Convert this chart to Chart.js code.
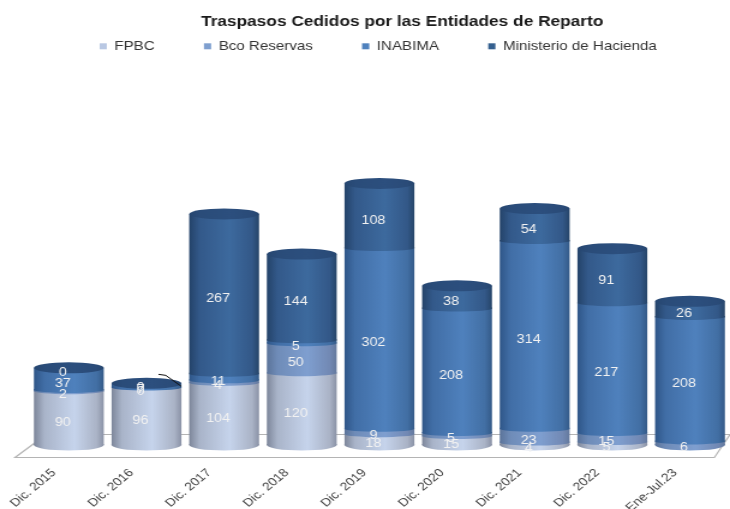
<!DOCTYPE html>
<html>
<head>
<meta charset="utf-8">
<title>Traspasos Cedidos por las Entidades de Reparto</title>
<script src="https://cdn.jsdelivr.net/npm/chart.js@4"></script>
<style>
  html, body { margin: 0; padding: 0; background: #fff; }
</style>
</head>
<body>
<!-- the original picture is stretched sideways, so the canvas is too -->
<canvas id="traspasos" width="608" height="509" style="display:block;width:730px;height:509px"></canvas>
<script>
var categories = ['Dic. 2015', 'Dic. 2016', 'Dic. 2017', 'Dic. 2018', 'Dic. 2019', 'Dic. 2020', 'Dic. 2021', 'Dic. 2022', 'Ene-Jul.23'];
var fpbc = [90, 96, 104, 120, 18, 15, 4, 5, null];
var bcoReservas = [2, 0, 4, 50, 9, 5, 23, 15, 6];
var inabima = [37, 7, 11, 5, 302, 208, 314, 217, 208];
var hacienda = [0, 0, 267, 144, 108, 38, 54, 91, 26];
var legendColors = ['#b9c8e3', '#7f9fcf', '#4f81bd', '#35608f'];

var barPct = 0.9;
var capHeight = 5.5;
var seamHeight = 3;
var shadeStops = [0, 0.15, 0.58, 0.9, 1];

function makeGradient(ctx, x, halfWidth, colors) {
  var g = ctx.createLinearGradient(x - halfWidth, 0, x + halfWidth, 0);
  shadeStops.forEach(function(stop, i) {
    g.addColorStop(stop, colors[i]);
  });
  return g;
}

function barFill(legendColor, colors) {
  return function(context) {
    if (context.type !== 'data') return legendColor;
    var xScale = context.chart.scales.x;
    var half = xScale.width / categories.length * barPct / 2;
    var center = xScale.getPixelForValue(context.dataIndex);
    // the scale has no size yet on the first pass
    if (!isFinite(center) || !isFinite(half)) return legendColor;
    return makeGradient(context.chart.ctx, center, half, colors);
  };
}

var shades = [
  ['#7d869a', '#a9b4c9', '#c6d4ec', '#aab3c6', '#8a92a6'],
  ['#5b7399', '#6f8cb8', '#7f9fd0', '#7289b4', '#64799d'],
  ['#2f5688', '#416ea6', '#4f81bd', '#426fa4', '#345a88'],
  ['#244369', '#33598a', '#3d6a9e', '#335888', '#264569']
];
var topShade = ['#264670', '#2a4c79', '#2c4f7e', '#2a4b78', '#26466f'];

// floor, curved bar ends and value labels go around the library's own bars
var cylinderPlugin = {
  id: 'cylinders',
  afterLayout: function(chart) {
    chart.titleBlock.left += 19;
    chart.titleBlock.right += 19;
    chart.legend.left -= 1;
    chart.legend.right -= 1;
    chart.legend.top = -1;
  },
  beforeDatasetsDraw: function(chart) {
    var ctx = chart.ctx, area = chart.chartArea;
    ctx.save();
    ctx.strokeStyle = '#b4b4b4';
    ctx.lineWidth = 1.2;
    ctx.beginPath();
    ctx.moveTo(area.left + 13.5, area.bottom - 10.5);
    ctx.lineTo(area.left - 12.5, area.bottom + 12.5);
    ctx.lineTo(area.right - 12, area.bottom + 12.5);
    ctx.lineTo(area.right + 1, area.bottom - 10.5);
    ctx.lineTo(area.left + 13.5, area.bottom - 10.5);
    ctx.stroke();
    ctx.restore();
  },
  afterDatasetsDraw: function(chart) {
    var ctx = chart.ctx;
    var groundY = chart.scales.y.getPixelForValue(0);
    ctx.save();
    chart.data.datasets.forEach(function(ds, i) {
      chart.getDatasetMeta(i).data.forEach(function(bar, n) {
        if (!ds.data[n]) return;
        var ry = Math.abs(bar.base - groundY) < 1 ? capHeight : seamHeight;
        ctx.fillStyle = makeGradient(ctx, bar.x, bar.width / 2, shades[i]);
        ctx.beginPath();
        ctx.rect(bar.x - bar.width / 2, bar.base - 1, bar.width, 1.5);
        ctx.ellipse(bar.x, bar.base, bar.width / 2, ry, 0, 0, Math.PI);
        ctx.fill();
      });
    });

    // top face of each stack
    var lastMeta = chart.getDatasetMeta(chart.data.datasets.length - 1);
    lastMeta.data.forEach(function(bar) {
      ctx.fillStyle = makeGradient(ctx, bar.x, bar.width / 2, topShade);
      ctx.beginPath();
      ctx.ellipse(bar.x, bar.y, bar.width / 2, capHeight, 0, 0, Math.PI * 2);
      ctx.fill();
    });

    // stray leader line next to Dic. 2016
    var stray = lastMeta.data[1];
    ctx.strokeStyle = '#111';
    ctx.lineWidth = 1;
    ctx.beginPath();
    ctx.moveTo(stray.x + 10, stray.y - 9);
    ctx.lineTo(stray.x + 16, stray.y - 8);
    ctx.lineTo(stray.x + 29, stray.y + 3);
    ctx.stroke();

    ctx.fillStyle = '#f2f2f2';
    ctx.font = '12px "Liberation Sans"';
    ctx.textAlign = 'center';
    ctx.textBaseline = 'middle';
    chart.data.datasets.forEach(function(ds, i) {
      chart.getDatasetMeta(i).data.forEach(function(bar, n) {
        if (ds.data[n] === null) return;
        ctx.fillText(ds.data[n], bar.x - 5, (bar.y + bar.base) / 2 + 4.5);
      });
    });
    ctx.restore();
  }
};

new Chart(document.getElementById('traspasos').getContext('2d'), {
  type: 'bar',
  data: {
    labels: categories,
    datasets: [
      { label: 'FPBC', data: fpbc, backgroundColor: barFill(legendColors[0], shades[0]) },
      { label: 'Bco Reservas', data: bcoReservas, backgroundColor: barFill(legendColors[1], shades[1]) },
      { label: 'INABIMA', data: inabima, backgroundColor: barFill(legendColors[2], shades[2]) },
      { label: 'Ministerio de Hacienda', data: hacienda, backgroundColor: barFill(legendColors[3], shades[3]) }
    ]
  },
  options: {
    responsive: false,
    devicePixelRatio: 1,
    animation: false,
    layout: { padding: { left: 25, right: 1, top: 0, bottom: 0 } },
    datasets: { bar: { barPercentage: barPct, categoryPercentage: 1, borderWidth: 0, inflateAmount: 0 } },
    plugins: {
      title: {
        display: true,
        text: 'Traspasos Cedidos por las Entidades de Reparto',
        color: '#1a1a1a',
        font: { family: '"Liberation Sans"', size: 14.4, weight: 'bold' },
        padding: { top: 13, bottom: 4 }
      },
      legend: {
        position: 'top',
        labels: {
          color: '#333',
          font: { family: '"Liberation Sans"', size: 12.6 },
          boxWidth: 6,
          boxHeight: 6,
          padding: 41,
          generateLabels: function(chart) {
            var items = Chart.defaults.plugins.legend.labels.generateLabels(chart);
            items.forEach(function(item, i) {
              item.fillStyle = legendColors[i];
              item.lineWidth = 0;
            });
            return items;
          }
        }
      },
      tooltip: { enabled: false }
    },
    scales: {
      x: {
        stacked: true,
        grid: { display: false },
        border: { display: false },
        ticks: {
          color: '#404040',
          font: { family: '"Liberation Sans"', size: 11.5 },
          minRotation: 45,
          maxRotation: 45,
          labelOffset: -12.5,
          padding: 13,
          autoSkip: false
        },
        afterFit: function(scale) {
          scale.height = 64;
          scale.paddingLeft = 0;
          scale.paddingRight = 0;
        }
      },
      y: { stacked: true, display: false, min: 0, max: 580 }
    }
  },
  plugins: [cylinderPlugin]
});
</script>
</body>
</html>
